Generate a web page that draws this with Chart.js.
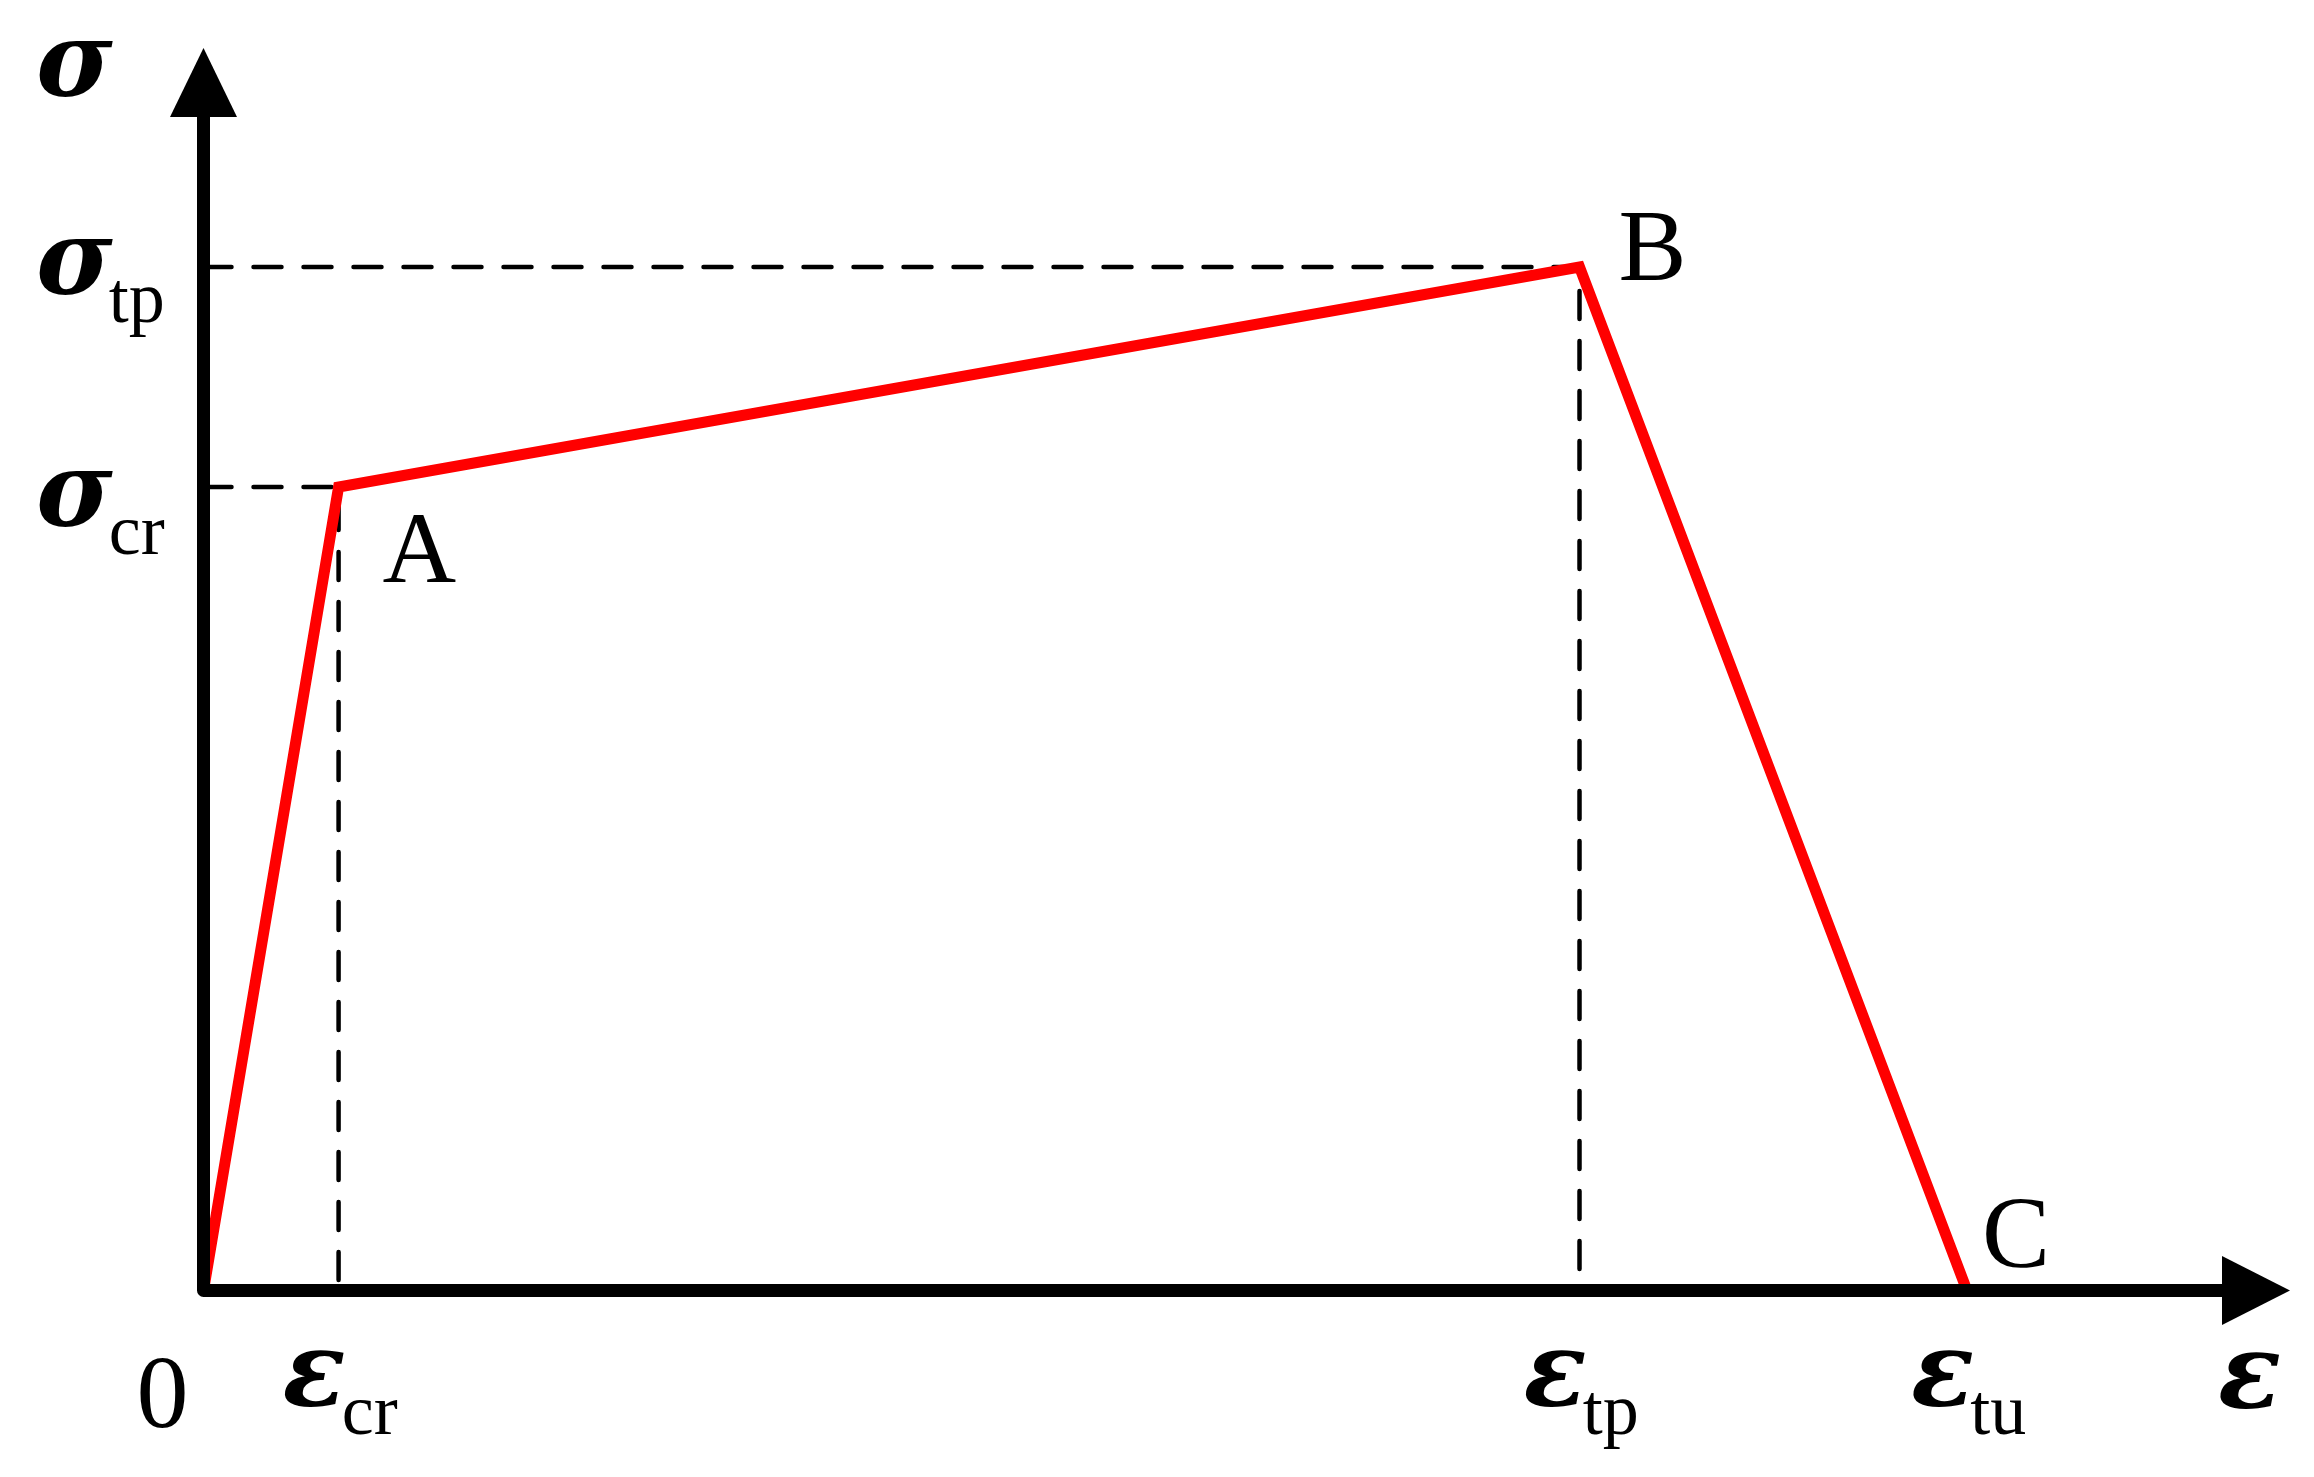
<!DOCTYPE html>
<html>
<head>
<meta charset="utf-8">
<script src="https://cdn.jsdelivr.net/npm/chart.js@4/dist/chart.umd.min.js"></script>
<style>
  html, body { margin: 0; padding: 0; background: #fff; }
  canvas { display: block; }
</style>
</head>
<body>
<canvas id="myChart" width="2314" height="1477"></canvas>
<script>
// key points O, A, B, C of the curve (normalised strain / stress)
const strainPoints = [0, 0.0766, 0.7803, 1.0];
const stressPoints = [0, 0.785, 1.0, 0];
const pointNames = ['', 'A', 'B', 'C'];

// axis ticks
const xTickValues = [0, 0.0766, 0.7803, 1.0];
const xTickMain = ['0', 'ε', 'ε', 'ε'];
const xTickSub = ['', 'cr', 'tp', 'tu'];
const yTickValues = [0.785, 1.0];
const yTickMain = ['σ', 'σ'];
const yTickSub = ['cr', 'tp'];

// axis names and extents
const xAxisName = 'ε';
const yAxisName = 'σ';
const xMax = 1.1832;
const yMax = 1.214;

const curve = strainPoints.map((x, i) => ({ x: x, y: stressPoints[i] }));

// dashed guides from A and B to the axes
function guide(i) {
  return [
    { x: 0, y: stressPoints[i] },
    { x: strainPoints[i], y: stressPoints[i] },
    { x: strainPoints[i], y: 0 }
  ];
}

const SERIF = '"Liberation Serif", "Times New Roman", serif';
const GREEK = '"DejaVu Serif", serif';

function drawSym(ctx, main, sub, x, base) {
  ctx.font = 'bold italic 104px ' + GREEK;
  ctx.fillText(main, x, base);
  const w = ctx.measureText(main).width;
  if (sub) {
    ctx.font = '72px ' + SERIF;
    ctx.fillText(sub, x + w - 4, base + 28);
  }
}

const axesPlugin = {
  id: 'axesPlugin',
  beforeDraw(chart) {
    const ctx = chart.ctx;
    ctx.save();
    ctx.fillStyle = '#fff';
    ctx.fillRect(0, 0, chart.width, chart.height);
    ctx.restore();
  },
  afterDatasetsDraw(chart) {
    const ctx = chart.ctx;
    const xs = chart.scales.x, ys = chart.scales.y;
    const x0 = xs.getPixelForValue(0), y0 = ys.getPixelForValue(0);
    const xEnd = xs.getPixelForValue(xMax), yEnd = ys.getPixelForValue(yMax);

    ctx.save();
    // axis lines
    ctx.strokeStyle = '#000';
    ctx.lineWidth = 13;
    ctx.lineJoin = 'round';
    ctx.beginPath();
    ctx.moveTo(x0, yEnd + 69);
    ctx.lineTo(x0, y0);
    ctx.lineTo(xEnd - 68, y0);
    ctx.stroke();

    // arrow heads
    ctx.fillStyle = '#000';
    ctx.beginPath();
    ctx.moveTo(x0, yEnd);
    ctx.lineTo(x0 - 33.5, yEnd + 69);
    ctx.lineTo(x0 + 33.5, yEnd + 69);
    ctx.closePath();
    ctx.fill();
    ctx.beginPath();
    ctx.moveTo(xEnd, y0);
    ctx.lineTo(xEnd - 68, y0 - 34.5);
    ctx.lineTo(xEnd - 68, y0 + 34.5);
    ctx.closePath();
    ctx.fill();

    ctx.textBaseline = 'alphabetic';
    ctx.textAlign = 'left';

    // y ticks
    const yShift = [39, 27];
    yTickValues.forEach((v, i) => {
      drawSym(ctx, yTickMain[i], yTickSub[i], 36, ys.getPixelForValue(v) + yShift[i]);
    });
    drawSym(ctx, yAxisName, '', 36, 96);

    // x ticks
    xTickValues.forEach((v, i) => {
      const px = xs.getPixelForValue(v);
      if (xTickSub[i] === '') {
        ctx.font = '104px ' + SERIF;
        ctx.textAlign = 'center';
        ctx.fillText(xTickMain[i], px - 41, y0 + 136);
        ctx.textAlign = 'left';
      } else {
        drawSym(ctx, xTickMain[i], xTickSub[i], px - 56, y0 + 115);
      }
    });
    drawSym(ctx, xAxisName, '', xEnd - 72, y0 + 117);

    // point names
    ctx.font = '102px ' + SERIF;
    const nameOffsets = [[0, 0], [44, 95], [39, 13], [15, -24]];
    pointNames.forEach((n, i) => {
      if (!n) return;
      const px = xs.getPixelForValue(strainPoints[i]);
      const py = ys.getPixelForValue(stressPoints[i]);
      ctx.fillText(n, px + nameOffsets[i][0], py + nameOffsets[i][1]);
    });
    ctx.restore();
  }
};

const guideStyle = {
  borderColor: '#000',
  borderWidth: 4.5,
  borderDash: [28, 22],
  borderCapStyle: 'round',
  pointRadius: 0,
  showLine: true,
  fill: false,
  order: 2
};

const config = {
  type: 'scatter',
  data: {
    datasets: [
      {
        label: 'curve',
        data: curve,
        borderColor: '#ff0000',
        backgroundColor: '#ff0000',
        borderWidth: 11,
        borderJoinStyle: 'miter',
        pointRadius: 0,
        showLine: true,
        fill: false,
        order: 0
      },
      Object.assign({ label: 'guide A', data: guide(1) }, guideStyle),
      Object.assign({ label: 'guide B', data: guide(2) }, guideStyle)
    ]
  },
  options: {
    responsive: false,
    animation: false,
    layout: { padding: { left: 203.5, right: 24, top: 48, bottom: 186.5 } },
    plugins: { legend: { display: false }, tooltip: { enabled: false } },
    scales: {
      x: { type: 'linear', min: 0, max: xMax, display: false },
      y: { type: 'linear', min: 0, max: yMax, display: false }
    }
  },
  plugins: [axesPlugin]
};

const myChart = new Chart(document.getElementById('myChart'), config);
</script>
</body>
</html>
